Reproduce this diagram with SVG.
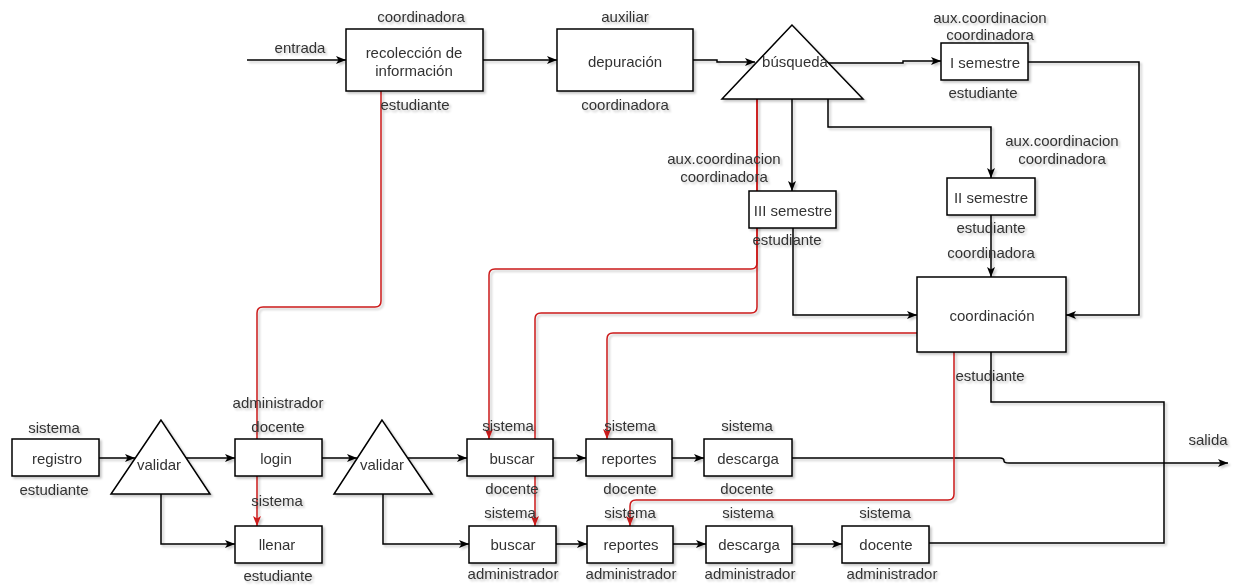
<svg xmlns="http://www.w3.org/2000/svg" width="1246" height="588" viewBox="0 0 1246 588">
<defs>
<style>
.n rect,.n polygon{fill:#fff;stroke:#000;stroke-width:1.5}
text{font-family:"Liberation Sans",Arial,Helvetica,sans-serif;font-size:15px;fill:#333;text-anchor:middle;dominant-baseline:central}
.c path{fill:none;stroke:#000;stroke-width:1.5}
.c path.r{stroke:#cc1a1a}
.sh{filter:url(#sh)}
</style>
<filter id="sh" x="-10%" y="-10%" width="130%" height="130%">
<feDropShadow dx="2" dy="2" stdDeviation="1.2" flood-color="#000" flood-opacity="0.22"/>
</filter>
<marker id="a" markerUnits="userSpaceOnUse" markerWidth="11" markerHeight="8" refX="10" refY="4" orient="auto">
<path d="M0,0 L10,4 L0,8 L2.5,4 z" fill="#000"/>
</marker>
<marker id="ar" markerUnits="userSpaceOnUse" markerWidth="11" markerHeight="8" refX="10" refY="4" orient="auto">
<path d="M0,0 L10,4 L0,8 L2.5,4 z" fill="#cc1a1a"/>
</marker>
</defs>
<rect width="1246" height="588" fill="#fff"/>

<g id="connectors" class="c sh">
<path d="M247,60 H346" marker-end="url(#a)"/>
<path d="M483,60 H557" marker-end="url(#a)"/>
<path d="M693,60 H717 V62 H755" marker-end="url(#a)"/>
<path d="M828,63 H903 V61 H941" marker-end="url(#a)"/>
<path d="M1028,62 H1139 V315 H1066" marker-end="url(#a)"/>
<path d="M792,99 V191" marker-end="url(#a)"/>
<path d="M828,99 V127 H991 V178" marker-end="url(#a)"/>
<path d="M793,228 V315 H917" marker-end="url(#a)"/>
<path d="M991,215 V277" marker-end="url(#a)"/>
<path d="M991,352 V402 H1164 V543 H929"/>
<path d="M99,458 H135" marker-end="url(#a)"/>
<path d="M186,458 H235" marker-end="url(#a)"/>
<path d="M161,494 V544 H235" marker-end="url(#a)"/>
<path d="M322,458 H357" marker-end="url(#a)"/>
<path d="M407,458 H467" marker-end="url(#a)"/>
<path d="M383,494 V544 H469" marker-end="url(#a)"/>
<path d="M553,458 H586" marker-end="url(#a)"/>
<path d="M672,458 H704" marker-end="url(#a)"/>
<path d="M792,458 H1000 q4,0 4,3 q0,2 5,2 H1228" marker-end="url(#a)"/>
<path d="M556,544 H587" marker-end="url(#a)"/>
<path d="M673,544 H706" marker-end="url(#a)"/>
<path d="M792,544 H842" marker-end="url(#a)"/>
<path class="r" d="M381,91 V301 q0,6 -6,6 H263 q-6,0 -6,6 V526" marker-end="url(#ar)"/>
<path class="r" d="M757,99 V263 q0,6 -6,6 H495 q-6,0 -6,6 V439" marker-end="url(#ar)"/>
<path class="r" d="M757,99 V307 q0,6 -6,6 H541 q-6,0 -6,6 V526" marker-end="url(#ar)"/>
<path class="r" d="M917,333 H613 q-6,0 -6,6 V439" marker-end="url(#ar)"/>
<path class="r" d="M954,352 V494 q0,6 -6,6 H636 q-6,0 -6,6 V526" marker-end="url(#ar)"/>
</g>

<g id="labels" class="sh">
<text x="300" y="47">entrada</text>
<text x="1208" y="439">salida</text>
</g>

<g id="recoleccion" class="n sh">
<rect x="346" y="29" width="137" height="62"/>
<text x="414" y="52">recolección de</text>
<text x="414" y="70">información</text>
<text x="421" y="16">coordinadora</text>
<text x="415" y="104">estudiante</text>
</g>
<g id="depuracion" class="n sh">
<rect x="557" y="29" width="136" height="62"/>
<text x="625" y="61">depuración</text>
<text x="625" y="16">auxiliar</text>
<text x="625" y="104">coordinadora</text>
</g>
<g id="busqueda" class="n sh">
<polygon points="792,25 722,99 863,99"/>
<text x="795" y="61">búsqueda</text>
</g>
<g id="isemestre" class="n sh">
<rect x="941" y="43" width="87" height="37"/>
<text x="985" y="62">I semestre</text>
<text x="990" y="17">aux.coordinacion</text>
<text x="990" y="34">coordinadora</text>
<text x="983" y="92">estudiante</text>
</g>
<g id="iiisemestre" class="n sh">
<rect x="749" y="191" width="87" height="37"/>
<text x="793" y="210">III semestre</text>
<text x="724" y="158">aux.coordinacion</text>
<text x="724" y="176">coordinadora</text>
<text x="787" y="239">estudiante</text>
</g>
<g id="iisemestre" class="n sh">
<rect x="947" y="178" width="88" height="37"/>
<text x="991" y="197">II semestre</text>
<text x="1062" y="140">aux.coordinacion</text>
<text x="1062" y="158">coordinadora</text>
<text x="991" y="227">estudiante</text>
<text x="991" y="252">coordinadora</text>
</g>
<g id="coordinacion" class="n sh">
<rect x="917" y="277" width="149" height="75"/>
<text x="992" y="315">coordinación</text>
<text x="990" y="375">estudiante</text>
</g>
<g id="registro" class="n sh">
<rect x="12" y="439" width="87" height="37"/>
<text x="57" y="458">registro</text>
<text x="54" y="427">sistema</text>
<text x="54" y="489">estudiante</text>
</g>
<g id="validar1" class="n sh">
<polygon points="161,420 111,494 210,494"/>
<text x="159" y="464">validar</text>
</g>
<g id="login" class="n sh">
<rect x="235" y="439" width="87" height="37"/>
<text x="276" y="458">login</text>
<text x="278" y="402">administrador</text>
<text x="278" y="426">docente</text>
</g>
<g id="llenar" class="n sh">
<rect x="235" y="526" width="87" height="37"/>
<text x="277" y="544">llenar</text>
<text x="277" y="500">sistema</text>
<text x="278" y="575">estudiante</text>
</g>
<g id="validar2" class="n sh">
<polygon points="382,420 334,494 432,494"/>
<text x="382" y="464">validar</text>
</g>
<g id="buscar1" class="n sh">
<rect x="467" y="439" width="86" height="37"/>
<text x="512" y="458">buscar</text>
<text x="508" y="425">sistema</text>
<text x="512" y="488">docente</text>
</g>
<g id="reportes1" class="n sh">
<rect x="586" y="439" width="86" height="37"/>
<text x="629" y="458">reportes</text>
<text x="630" y="425">sistema</text>
<text x="630" y="488">docente</text>
</g>
<g id="descarga1" class="n sh">
<rect x="704" y="439" width="88" height="37"/>
<text x="748" y="458">descarga</text>
<text x="747" y="425">sistema</text>
<text x="747" y="488">docente</text>
</g>
<g id="buscar2" class="n sh">
<rect x="469" y="526" width="87" height="37"/>
<text x="513" y="544">buscar</text>
<text x="510" y="512">sistema</text>
<text x="513" y="573">administrador</text>
</g>
<g id="reportes2" class="n sh">
<rect x="587" y="526" width="86" height="37"/>
<text x="631" y="544">reportes</text>
<text x="630" y="512">sistema</text>
<text x="631" y="573">administrador</text>
</g>
<g id="descarga2" class="n sh">
<rect x="706" y="526" width="86" height="37"/>
<text x="749" y="544">descarga</text>
<text x="748" y="512">sistema</text>
<text x="750" y="573">administrador</text>
</g>
<g id="docente" class="n sh">
<rect x="842" y="526" width="87" height="37"/>
<text x="886" y="544">docente</text>
<text x="885" y="512">sistema</text>
<text x="892" y="573">administrador</text>
</g>
</svg>
